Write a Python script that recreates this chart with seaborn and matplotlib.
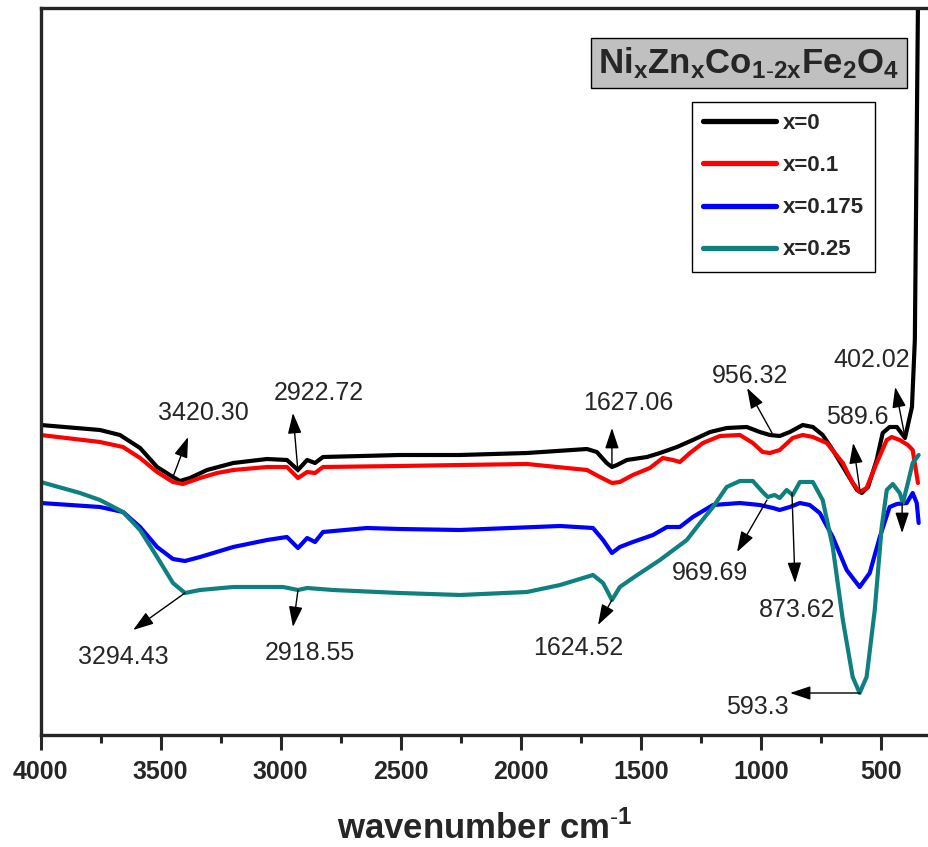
import pandas as pd
import matplotlib
matplotlib.use("Agg")
import matplotlib.pyplot as plt
from matplotlib.ticker import MultipleLocator
import seaborn as sns

sns.set_style("ticks")
plt.rcParams['font.family'] = ['Liberation Sans', 'DejaVu Sans']
plt.rcParams['mathtext.fontset'] = 'custom'
plt.rcParams['mathtext.rm'] = 'Liberation Sans'
plt.rcParams['mathtext.bf'] = 'Liberation Sans:bold'

# -----------------------------------------------
# FTIR spectra (transmittance, arbitrary units)
# -----------------------------------------------
wn_x0 = [4000, 3753, 3670, 3586, 3515, 3449, 3420, 3378, 3307, 3198, 3057, 2974,
         2928, 2890, 2857, 2824, 2504, 2253, 1974, 1724, 1683, 1642, 1620, 1599,
         1558, 1474, 1420, 1349, 1283, 1211, 1142, 1058, 1004, 962, 921, 879, 825,
         783, 742, 700, 642, 599, 579, 553, 517, 492, 463, 433, 399, 370, 358, 345]
t_x0 = [313, 308, 303, 290, 271, 261, 257, 260, 268, 275, 279, 278,
        268, 278, 275, 281, 283, 283, 285, 289, 286, 275, 271, 273,
        278, 281, 285, 291, 298, 306, 310, 311, 306, 303, 302, 306, 313,
        311, 303, 288, 265, 248, 245, 251, 278, 305, 311, 311, 300, 331, 398, 733]

wn_x01 = [4000, 3753, 3657, 3586, 3515, 3449, 3407, 3336, 3265, 3198, 3057, 2974,
          2928, 2890, 2857, 2824, 2504, 2253, 1974, 1724, 1670, 1620, 1587, 1533,
          1462, 1408, 1366, 1337, 1295, 1241, 1170, 1087, 1033, 992, 962, 921, 867,
          825, 783, 725, 658, 617, 588, 559, 517, 475, 454, 421, 387, 367, 345]
t_x01 = [303, 296, 291, 280, 266, 256, 254, 260, 265, 268, 271, 271,
         260, 266, 265, 271, 272, 273, 274, 268, 261, 255, 256, 263,
         270, 280, 278, 276, 285, 295, 302, 303, 295, 286, 285, 288, 300,
         303, 301, 295, 275, 255, 246, 250, 275, 298, 301, 298, 293, 288, 255]

wn_x0175 = [4000, 3753, 3657, 3586, 3515, 3449, 3399, 3336, 3198, 3057, 2974, 2928,
            2890, 2857, 2824, 2641, 2504, 2253, 1836, 1699, 1657, 1620, 1587, 1533,
            1449, 1391, 1337, 1283, 1199, 1087, 1004, 949, 921, 879, 837, 796, 754,
            700, 642, 588, 546, 504, 463, 433, 392, 367, 350, 342]
t_x0175 = [235, 231, 226, 211, 191, 179, 177, 181, 191, 198, 201, 190,
           200, 196, 206, 210, 209, 208, 212, 210, 198, 185, 191, 196,
           203, 211, 211, 221, 233, 235, 233, 230, 228, 231, 235, 233, 225,
           201, 168, 151, 165, 201, 231, 234, 235, 245, 235, 215]

wn_x025 = [4000, 3836, 3753, 3657, 3586, 3515, 3449, 3399, 3336, 3198, 2990, 2928,
           2890, 2782, 2504, 2253, 1974, 1836, 1699, 1657, 1620, 1587, 1533, 1420,
           1308, 1253, 1199, 1142, 1087, 1033, 992, 971, 942, 921, 892, 867, 837,
           783, 742, 700, 658, 617, 588, 559, 525, 496, 475, 450, 421, 408, 387,
           367, 342]
t_x025 = [256, 245, 238, 226, 208, 181, 155, 145, 148, 151, 151, 148,
          150, 148, 145, 143, 146, 153, 163, 155, 138, 151, 160, 178,
          198, 215, 231, 251, 257, 257, 246, 241, 243, 240, 248, 243, 256,
          256, 238, 191, 118, 61, 45, 61, 128, 211, 248, 254, 245, 235, 255,
          275, 283]

samples = ['x=0', 'x=0.1', 'x=0.175', 'x=0.25']
colors = ['#000000', '#ff0000', '#0000ff', '#0f8080']

# peak labels: text, text position, arrow tail (on curve), arrow head
peak_labels = ['3420.30', '2922.72', '3294.43', '2918.55', '1627.06', '956.32',
               '589.6', '402.02', '969.69', '873.62', '1624.52', '593.3', '']
label_pos = [(3324, 325), (2840, 345), (3657, 81), (2878, 85), (1553, 335), (1045, 362),
             (599, 321), (536, 378), (1211, 165), (849, 128), (1761, 90), (1015, 31), None]
arrow_tail = [(3449, 261), (2928, 266), (3399, 145), (2928, 148), (1620, 271), (953, 305),
              (586, 246), (399, 301), (974, 238), (870, 245), (1620, 138), (586, 45), (411, 235)]
arrow_head = [(3386, 301), (2949, 325), (3615, 108), (2949, 111), (1620, 310), (1057, 350),
              (615, 295), (440, 351), (1099, 186), (857, 155), (1678, 113), (878, 45), (411, 205)]

# -----------------------------------------------
# long format for seaborn
# -----------------------------------------------
frames = []
for name, wn, t in zip(samples, [wn_x0, wn_x01, wn_x0175, wn_x025],
                       [t_x0, t_x01, t_x0175, t_x025]):
    frames.append(pd.DataFrame({'wavenumber': wn, 'T': t, 'sample': name}))
df = pd.concat(frames, ignore_index=True)

fig = plt.figure(figsize=(9.29, 8.47), dpi=100)
ax = fig.add_axes([40.7 / 929, 112 / 847, 888.3 / 929, 727 / 847])

sns.lineplot(data=df, x='wavenumber', y='T', hue='sample', hue_order=samples,
             palette=colors, sort=False, estimator=None, units='sample',
             linewidth=3.0, ax=ax, legend=False)
for line in ax.lines:
    line.set_solid_joinstyle('round')
    line.set_solid_capstyle('round')

ax.set_xlim(4000, 299)
ax.set_ylim(3, 730)
ax.xaxis.set_major_locator(MultipleLocator(500))
ax.xaxis.set_minor_locator(MultipleLocator(250))
ax.set_yticks([])
ax.set_ylabel('')
ax.tick_params(axis='x', which='major', direction='out', length=11, width=2.2,
               labelsize=18, pad=7)
ax.tick_params(axis='x', which='minor', direction='out', length=6, width=2.2)
for lab in ax.get_xticklabels():
    lab.set_fontweight('bold')
for side in ['left', 'bottom', 'top']:
    ax.spines[side].set_linewidth(2.4)
ax.spines['right'].set_visible(False)

ax.set_xlabel(r'wavenumber cm$^{\mathbf{\text{-}1}}$', fontsize=25, fontweight='bold',
              labelpad=19)

# peak annotations
for txt, pos, tail, head in zip(peak_labels, label_pos, arrow_tail, arrow_head):
    ax.annotate('', xy=head, xytext=tail,
                arrowprops=dict(arrowstyle='-|>,head_length=0.9,head_width=0.3',
                                color='black', lw=1.0, shrinkA=0, shrinkB=0,
                                mutation_scale=14))
    if pos is not None:
        ax.text(pos[0], pos[1], txt, fontsize=18, ha='center', va='center')

# legend
handles = [plt.Line2D([], [], color=c, lw=3.8) for c in colors]
leg = ax.legend(handles, samples, loc='upper right',
                bbox_to_anchor=(875 / 929, 1 - 102 / 847),
                bbox_transform=fig.transFigure, frameon=True, fancybox=False,
                edgecolor='black', framealpha=1, handlelength=3.3,
                handletextpad=0.3, labelspacing=0.95, borderpad=0.5,
                borderaxespad=0, prop={'weight': 'bold', 'size': 16})
leg.get_frame().set_linewidth(1.0)

# compound title box
fig.text(749 / 929, 1 - 63 / 847, r'$\mathbf{Ni_xZn_xCo_{1\text{-}2x}Fe_2O_4}$',
         fontsize=25, ha='center', va='center',
         bbox=dict(boxstyle='square,pad=0.22', fc='#c0c0c0', ec='black', lw=1.0))

plt.savefig('out.png', dpi=100)
